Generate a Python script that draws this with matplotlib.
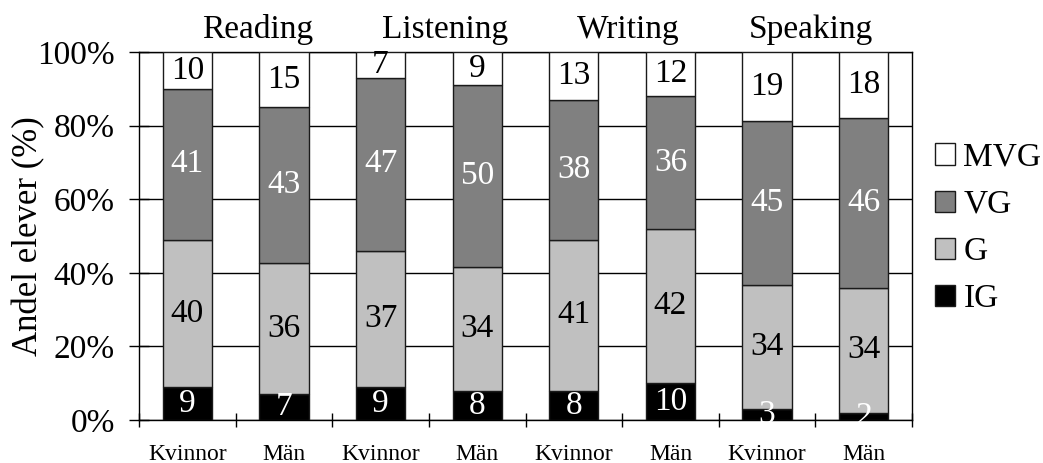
import numpy as np
import matplotlib.pyplot as plt
from matplotlib.patches import Patch

plt.rcParams['font.family'] = ['Liberation Serif', 'DejaVu Serif']

# data
groups = ["Kvinnor", "Män", "Kvinnor", "Män", "Kvinnor", "Män", "Kvinnor", "Män"]
skills = ["Reading", "Listening", "Writing", "Speaking"]
ig = [9, 7, 9, 8, 8, 10, 3, 2]
g = [40, 36, 37, 34, 41, 42, 34, 34]
vg = [41, 43, 47, 50, 38, 36, 45, 46]
mvg = [10, 15, 7, 9, 13, 12, 19, 18]

series = [("IG", ig, "#000000", "white"),
          ("G", g, "#c0c0c0", "black"),
          ("VG", vg, "#808080", "white"),
          ("MVG", mvg, "#ffffff", "black")]

totals = np.array(ig) + np.array(g) + np.array(vg) + np.array(mvg)

fig = plt.figure(figsize=(10.43, 4.63), dpi=100)
ax = fig.add_axes([0.1333, 0.0929, 0.7411, 0.7948])

x = np.arange(len(groups))
bottom = np.zeros(len(groups))
handles = {}
for name, vals, col, tcol in series:
    h = np.array(vals) / totals * 100
    ax.bar(x, h, width=0.51, bottom=bottom, color=col,
           edgecolor="#1a1a1a", linewidth=1.0, zorder=3)
    for xi, b, hv, v in zip(x, bottom, h, vals):
        ax.text(xi, b + hv / 2, str(v), ha="center", va="center",
                fontsize=24, color=tcol, zorder=4)
    handles[name] = Patch(facecolor=col, edgecolor="#1a1a1a", linewidth=1.0)
    bottom += h

ax.set_xlim(-0.5, len(groups) - 0.5)
ax.set_ylim(0, 100)
ax.set_yticks(np.arange(0, 101, 20))
ax.set_yticklabels([f"{t}%" for t in range(0, 101, 20)], fontsize=24)
ax.yaxis.grid(True, color="black", linewidth=1.0, zorder=0)
ax.tick_params(axis="y", direction="inout", length=15, width=1, pad=10)

ax.set_xticks(np.arange(-0.5, len(groups), 1.0))
ax.set_xticklabels([])
ax.set_xticks(x, minor=True)
ax.set_xticklabels(groups, minor=True, fontsize=17)
ax.tick_params(axis="x", which="major", direction="inout", length=10, width=1)
ax.tick_params(axis="x", which="minor", length=0, pad=17)

for sp in ax.spines.values():
    sp.set_linewidth(1.0)

fig.text(29 / 1043, 0.49, "Andel elever (%)", rotation=90,
         ha="center", va="center", fontsize=25)

# skill titles above each pair
for sx, s in zip([0.73, 2.67, 4.56, 6.45], skills):
    ax.text(sx, 102, s, ha="center", va="bottom", fontsize=24)

order = ["MVG", "VG", "G", "IG"]
fig.legend([handles[n] for n in order], order, loc="center left",
           bbox_to_anchor=(0.8965, 0.507), frameon=False, fontsize=24,
           handlelength=0.6, handleheight=0.6, handletextpad=0.25,
           labelspacing=0.5, borderpad=0, borderaxespad=0)

fig.savefig("out.png", dpi=100)
